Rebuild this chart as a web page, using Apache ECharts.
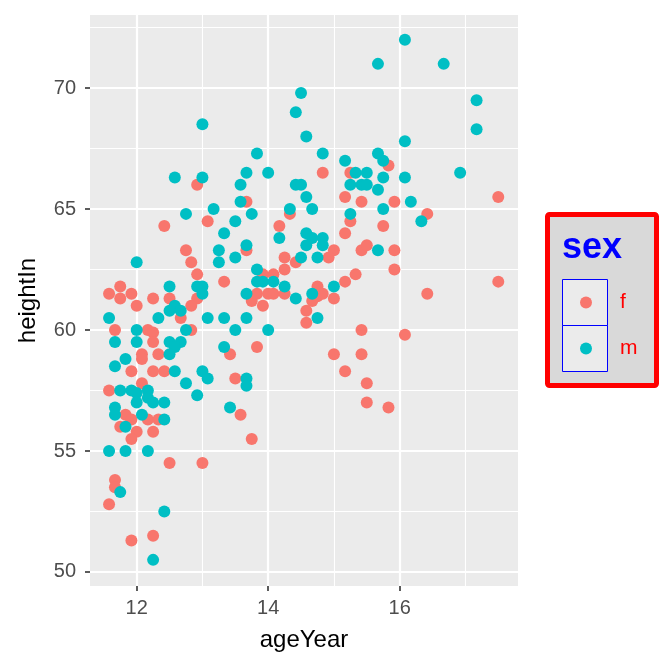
<!DOCTYPE html>
<html lang="en">
<head>
<meta charset="UTF-8">
<title>heightIn by ageYear</title>
<script src="https://cdn.jsdelivr.net/npm/echarts@6/dist/echarts.min.js"></script>
<style>
  html, body { margin: 0; height: 100%; background: #fff; }
  #main { width: 672px; height: 672px; }
</style>
</head>
<body>
<div id="main"></div>
<script>
// values
const fAge = [12.92, 14.83, 15.25, 13.67, 15.17, 15.42, 15.83, 17.5, 15.92, 16.42,
  15.75, 15.92, 15.92, 17.5, 16.42, 16.08, 15.83, 13.58, 13.75, 15.5,
  14.33, 15.25, 15.17, 14.17, 15.0, 15.42, 15.5, 13.67, 14.25, 14.42,
  14.92, 14.25, 13.92, 14.08, 15.33, 15.17, 14.75, 13.75, 13.83, 14.0,
  14.08, 14.25, 14.75, 14.83, 14.67, 15.0, 13.92, 14.58, 14.58, 13.83,
  13.42, 15.0, 15.42, 15.42, 15.17, 15.5, 13.5, 13.08, 12.42, 12.75,
  12.83, 12.92, 13.33, 12.92, 12.83, 11.75, 11.58, 11.92, 11.75, 12.25,
  12.5, 12.0, 12.67, 11.67, 12.17, 12.25, 12.83, 12.25, 12.08, 12.08,
  12.33, 11.92, 12.25, 12.42, 12.08, 11.58, 11.83, 11.92, 12.17, 12.33,
  11.75, 12.0, 12.25, 11.92, 12.5, 13.0, 11.67, 11.67, 11.58, 12.25, 11.92];
const fHeight = [66.0, 66.5, 66.5, 65.3, 65.5, 65.3, 66.8, 65.5, 65.3, 64.8,
  64.3, 63.3, 62.5, 62.0, 61.5, 59.8, 56.8, 56.5, 55.5, 57.0,
  64.8, 64.5, 64.0, 64.3, 63.3, 63.3, 63.5, 63.3, 63.0, 62.8,
  63.0, 62.5, 62.3, 62.3, 62.3, 62.0, 61.8, 61.2, 61.5, 61.5,
  61.5, 61.5, 61.4, 61.5, 61.2, 61.3, 61.0, 60.8, 60.3, 59.3,
  59.0, 59.0, 60.0, 59.0, 58.3, 57.8, 58.0, 64.5, 64.3, 63.3,
  62.8, 62.3, 62.0, 61.3, 61.0, 61.8, 61.5, 61.5, 61.3, 61.3,
  61.3, 61.0, 60.5, 60.0, 60.0, 59.9, 60.0, 59.5, 59.0, 58.8,
  59.0, 58.3, 58.3, 58.3, 57.8, 57.5, 56.5, 56.3, 56.3, 56.3,
  56.0, 55.8, 55.8, 55.5, 54.5, 54.5, 53.8, 53.5, 52.8, 51.5, 51.3];

const mAge = [13.0, 12.58, 13.0, 13.17, 12.75, 15.67, 14.5, 14.42, 14.58, 13.83,
  14.83, 15.17, 15.67, 13.67, 14.0, 15.33, 15.5, 13.58, 14.42, 14.5,
  15.25, 15.42, 15.5, 15.67, 14.58, 13.58, 14.33, 14.67, 16.08, 16.67,
  17.17, 17.17, 16.08, 15.75, 16.92, 15.75, 16.08, 16.17, 15.75, 16.33,
  15.67, 13.42, 13.5, 13.75, 15.25, 14.17, 14.58, 14.67, 14.83, 14.58,
  14.83, 13.67, 13.5, 14.5, 14.75, 13.83, 13.83, 13.92, 14.08, 15.0,
  14.25, 13.67, 14.42, 14.67, 14.75, 13.67, 13.5, 14.0, 13.67, 13.67,
  13.33, 13.25, 13.25, 12.0, 12.5, 12.92, 13.0, 13.0, 12.58, 12.5,
  12.67, 11.58, 12.33, 13.08, 13.33, 12.0, 12.75, 11.67, 12.0, 12.5,
  12.67, 12.58, 13.33, 12.5, 11.83, 11.67, 12.58, 13.0, 13.08, 12.75,
  11.75, 11.92, 12.0, 12.17, 12.17, 12.92, 11.67, 11.67, 12.0, 12.25,
  12.42, 12.08, 12.42, 11.83, 11.58, 11.83, 12.17, 11.75, 12.42, 12.25];
const mHeight = [68.5, 66.3, 66.3, 65.0, 64.8, 71.0, 69.8, 69.0, 68.0, 67.3,
  67.3, 67.0, 67.3, 66.5, 66.5, 66.5, 66.5, 66.0, 66.0, 66.0,
  66.0, 66.0, 66.0, 65.8, 65.5, 65.3, 65.0, 65.0, 72.0, 71.0,
  69.5, 68.3, 67.8, 67.0, 66.5, 66.3, 66.3, 65.3, 65.0, 64.5,
  63.3, 56.8, 64.5, 64.8, 64.8, 63.8, 64.0, 63.8, 63.8, 63.5,
  63.5, 63.5, 63.0, 63.0, 63.0, 62.5, 62.0, 62.0, 62.0, 61.8,
  61.8, 61.5, 61.3, 61.5, 60.5, 60.5, 60.0, 60.0, 58.0, 57.7,
  64.0, 63.3, 62.8, 62.8, 61.8, 61.8, 61.8, 61.5, 61.0, 60.8,
  60.8, 60.5, 60.5, 60.5, 60.5, 60.0, 60.0, 59.5, 59.5, 59.5,
  59.5, 59.3, 59.3, 59.0, 58.8, 58.5, 58.3, 58.3, 58.0, 57.8,
  57.5, 57.5, 57.4, 57.5, 57.2, 57.3, 56.8, 56.5, 57.0, 57.0,
  57.0, 56.5, 56.3, 56.0, 55.0, 55.0, 55.0, 53.3, 52.5, 50.5];

const sexLevels = ['f', 'm'];
const sexColors = ['#F8766D', '#00BFC4'];

const xTicks = [12, 14, 16];
const xMinor = [13, 15, 17];
const yTicks = [50, 55, 60, 65, 70];
const yMinor = [52.5, 57.5, 62.5, 67.5, 72.5];
const xRange = [11.29, 17.8];
const yRange = [49.42, 73.02];

function zip(a, b) {
    return a.map(function (v, i) { return [v, b[i]]; });
}

const font = '"Liberation Sans", Arial, Helvetica, sans-serif';
const chart = echarts.init(document.getElementById('main'), null, {renderer: 'canvas'});

function majorAxis(ticks, extra) {
    return Object.assign({
        type: 'value',
        axisLine: {show: false},
        axisTick: {show: true, customValues: ticks, length: 5, lineStyle: {color: '#333333', width: 1.6}},
        axisLabel: {customValues: ticks, color: '#4D4D4D', fontSize: 20, fontFamily: font},
        splitLine: {show: true, lineStyle: {color: '#FFFFFF', width: 2.2}},
        nameLocation: 'middle',
        nameTextStyle: {color: '#000000', fontSize: 24, fontFamily: font}
    }, extra);
}

function minorAxis(ticks, extra) {
    return Object.assign({
        type: 'value',
        axisLine: {show: false},
        axisTick: {show: false, customValues: ticks},
        axisLabel: {show: false, customValues: ticks},
        splitLine: {show: true, lineStyle: {color: '#FFFFFF', width: 1.1}}
    }, extra);
}

const option = {
    animation: false,
    backgroundColor: '#FFFFFF',
    grid: {
        left: 90, right: 154, top: 15, bottom: 86,
        show: true, backgroundColor: '#EBEBEB', borderWidth: 0
    },
    xAxis: [
        majorAxis(xTicks, {min: xRange[0], max: xRange[1], name: 'ageYear', nameGap: 42,
            axisLabel: {customValues: xTicks, color: '#4D4D4D', fontSize: 20, fontFamily: font, margin: 12}}),
        minorAxis(xMinor, {min: xRange[0], max: xRange[1], position: 'bottom'})
    ],
    yAxis: [
        majorAxis(yTicks, {min: yRange[0], max: yRange[1], name: 'heightIn', nameGap: 50,
            axisLabel: {customValues: yTicks, color: '#4D4D4D', fontSize: 20, fontFamily: font, margin: 14}}),
        minorAxis(yMinor, {min: yRange[0], max: yRange[1], position: 'left'})
    ],
    legend: {
        data: sexLevels,
        orient: 'vertical',
        left: 575,
        top: 287,
        itemWidth: 12,
        itemHeight: 12,
        itemGap: 25,
        icon: 'circle',
        selectedMode: false,
        z: 10,
        textStyle: {color: '#FF0000', fontSize: 21, fontFamily: font, padding: [0, 0, 0, 23]}
    },
    graphic: [
        {
            type: 'rect', z: 1,
            shape: {x: 547.5, y: 214.5, width: 109, height: 171, r: 2},
            style: {fill: '#D9D9D9', stroke: '#FF0000', lineWidth: 5}
        },
        {
            type: 'rect', z: 2,
            shape: {x: 562.5, y: 279.5, width: 45, height: 46},
            style: {fill: '#EBEBEB', stroke: '#0000FF', lineWidth: 1}
        },
        {
            type: 'rect', z: 2,
            shape: {x: 562.5, y: 325.5, width: 45, height: 46},
            style: {fill: '#EBEBEB', stroke: '#0000FF', lineWidth: 1}
        },
        {
            type: 'text', z: 3,
            x: 562, y: 248,
            style: {text: 'sex', fill: '#0000FF', font: 'bold 36px ' + font, verticalAlign: 'middle'}
        }
    ],
    series: [
        {
            name: sexLevels[0],
            type: 'scatter',
            symbolSize: 12,
            itemStyle: {color: sexColors[0], opacity: 1},
            data: zip(fAge, fHeight)
        },
        {
            name: sexLevels[1],
            type: 'scatter',
            symbolSize: 12,
            itemStyle: {color: sexColors[1], opacity: 1},
            data: zip(mAge, mHeight)
        }
    ]
};

chart.setOption(option);
</script>
</body>
</html>
